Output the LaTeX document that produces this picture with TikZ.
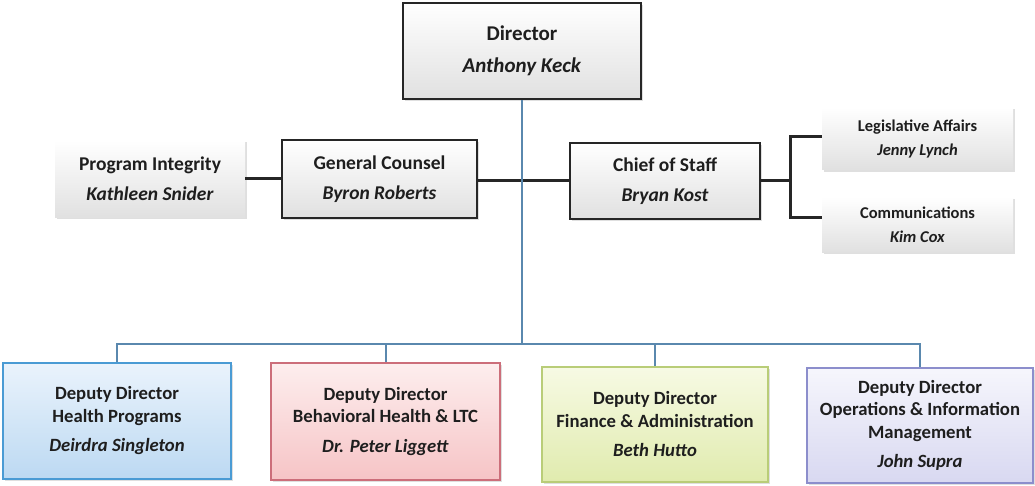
\documentclass[tikz,border=0pt]{standalone}
\usepackage{fontspec}
\setmainfont{Carlito}
\usetikzlibrary{shadows}
\definecolor{txt}{HTML}{1E1E1E}
\definecolor{bline}{HTML}{5A88AE}
\begin{document}
\begin{tikzpicture}[x={(1pt,0)},y={(0,-1pt)},
  base/.style={rectangle,inner sep=0pt,align=center,text=txt,font=\bfseries,
    drop shadow={shadow xshift=2pt,shadow yshift=-2pt,opacity=0.25}},
  graybox/.style={base,top color=white,bottom color=black!12},
  blackbox/.style={graybox,draw=black!85,line width=2.5pt},
  bigtxt/.style={font=\bfseries\fontsize{21}{32}\selectfont},
  midtxt/.style={font=\bfseries\fontsize{19.5}{30}\selectfont},
  smalltxt/.style={font=\bfseries\fontsize{16.5}{24}\selectfont},
  deptxt/.style={font=\bfseries\fontsize{18.7}{22.5}\selectfont},
  conn/.style={draw=black!85,line width=3pt},
  bconn/.style={draw=bline,line width=2pt}
]
\definecolor{blub}{HTML}{4A9BD4}\definecolor{blut}{HTML}{EAF3FC}\definecolor{bluf}{HTML}{BCD9F2}
\definecolor{redb}{HTML}{CC6E7A}\definecolor{redt}{HTML}{FDEEEE}\definecolor{redf}{HTML}{F6C4C6}
\definecolor{grnb}{HTML}{B9CD78}\definecolor{grnt}{HTML}{F7FAE4}\definecolor{grnf}{HTML}{E0EBAE}
\definecolor{purb}{HTML}{8C8ECC}\definecolor{purt}{HTML}{F6F6FC}\definecolor{purf}{HTML}{D8D8F1}
\useasboundingbox[fill=white] (0,0) rectangle (1035,486);

% top level
\node[blackbox,bigtxt,minimum width=238pt,minimum height=96pt] (dir) at (522,51)
  {Director\\\textit{Anthony Keck}};
\node[graybox,midtxt,minimum width=190pt,minimum height=77pt] (pi) at (150,179)
  {Program Integrity\\\textit{Kathleen Snider}};
\node[blackbox,midtxt,minimum width=195pt,minimum height=78pt] (gc) at (379.5,179)
  {General Counsel\\\textit{Byron Roberts}};
\node[blackbox,midtxt,minimum width=190pt,minimum height=76pt] (cos) at (665,181)
  {Chief of Staff\\\textit{Bryan Kost}};
\node[graybox,smalltxt,minimum width=191pt,minimum height=63pt] (la) at (917.5,138.5)
  {Legislative Affairs\\\textit{Jenny Lynch}};
\node[graybox,smalltxt,minimum width=191pt,minimum height=55pt] (com) at (917.5,224.5)
  {Communications\\\textit{Kim Cox}};

% deputy directors
\node[base,deptxt,draw=blub,top color=blut,bottom color=bluf,line width=1.8pt,
  minimum width=228pt,minimum height=116pt] (d1) at (117,421)
  {Deputy Director\\Health Programs\\[7pt]\textit{Deirdra Singleton}};
\node[base,deptxt,draw=redb,top color=redt,bottom color=redf,line width=1.8pt,
  minimum width=229pt,minimum height=117pt] (d2) at (385.5,421.5)
  {Deputy Director\\Behavioral Health \& LTC\\[7pt]\textit{Dr. Peter Liggett}};
\node[base,deptxt,draw=grnb,top color=grnt,bottom color=grnf,line width=1.8pt,
  minimum width=226pt,minimum height=115pt] (d3) at (655,424.5)
  {Deputy Director\\Finance \& Administration\\[7pt]\textit{Beth Hutto}};
\node[base,deptxt,draw=purb,top color=purt,bottom color=purf,line width=1.8pt,
  minimum width=226pt,minimum height=115pt] (d4) at (920,425.5)
  {Deputy Director\\Operations \& Information\\Management\\[7pt]\textit{John Supra}};

% connectors
\coordinate (bus) at (522,344);
\coordinate (br) at (790,181);
\draw[conn] (pi.east) -- (gc.west);
\draw[conn] (gc.east |- br) -- (cos.west);
\draw[conn] (cos.east) -- (br);
\draw[conn] ([yshift=1.5pt]la.west) -| (br) |- ([yshift=6.5pt]com.west);
\draw[bconn] (dir.south) -- (bus);
\draw[bconn] (d1.north) -- (d1.north |- bus) -- (d4.north |- bus) -- (d4.north);
\draw[bconn] (d2.north) -- (d2.north |- bus);
\draw[bconn] (d3.north) -- (d3.north |- bus);
\end{tikzpicture}
\end{document}
